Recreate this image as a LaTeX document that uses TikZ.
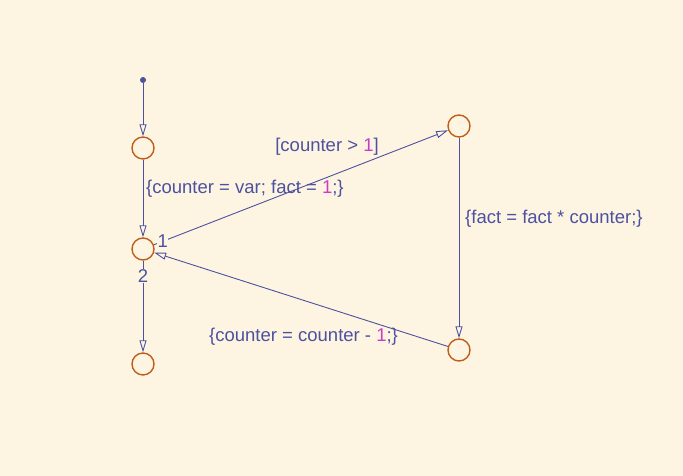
\documentclass[tikz,border=0pt]{standalone}
\usepackage{fontspec}
\setmainfont{Liberation Sans}
\usetikzlibrary{arrows.meta}
\definecolor{bgcol}{RGB}{254,244,226}
\definecolor{linecol}{RGB}{76,82,160}
\definecolor{statecol}{RGB}{190,94,26}
\definecolor{numcol}{RGB}{200,60,200}
\tikzset{
	junction/.style={circle, draw=statecol, line width=1.4pt, minimum size=22pt, inner sep=0pt},
	trans/.style={draw=linecol, line width=0.9pt, -{Triangle[open, length=12pt, width=7pt]}},
	lbl/.style={text=linecol, font=\fontsize{18.5}{22}\selectfont, inner sep=0pt}
}
\newcommand{\num}[1]{\textcolor{numcol}{#1}}
\begin{document}
\begin{tikzpicture}[x=1pt, y=-1pt]
	\fill[bgcol] (0,0) rectangle (683,476);
	\useasboundingbox (0,0) rectangle (683,476);
	% Define the junctions
	\node[circle, fill=linecol, inner sep=0pt, minimum size=6pt] (d) at (143, 80) {};
	\node[junction] (a) at (143, 148) {};
	\node[junction] (b) at (143, 249) {};
	\node[junction] (c) at (143, 364) {};
	\node[junction] (t) at (459, 126) {};
	\node[junction] (e) at (459, 350) {};

	% Draw the transitions with labels
	\draw[trans] (d) -- (a);
	\draw[trans] (a) -- (b);
	\node[lbl, anchor=west] (la) at (146, 189) {\{counter = var; fact = \num{1};\}};
	\draw[trans] (b) -- node[pos=0.03, fill=bgcol, lbl, inner sep=0.5pt] {1} (t);
	\node[lbl] (lt) at (327, 147) {[counter > \num{1}]};
	\draw[trans] (t) -- (e);
	\node[lbl, anchor=west] (le) at (465, 219) {\{fact = fact * counter;\}};
	\draw[trans] (e) -- (b);
	\node[lbl, anchor=west] (lb) at (209, 337) {\{counter = counter - \num{1};\}};
	\draw[trans] (b) -- node[pos=0.17, fill=bgcol, lbl, inner sep=0.5pt] {2} (c);
\end{tikzpicture}
\end{document}
